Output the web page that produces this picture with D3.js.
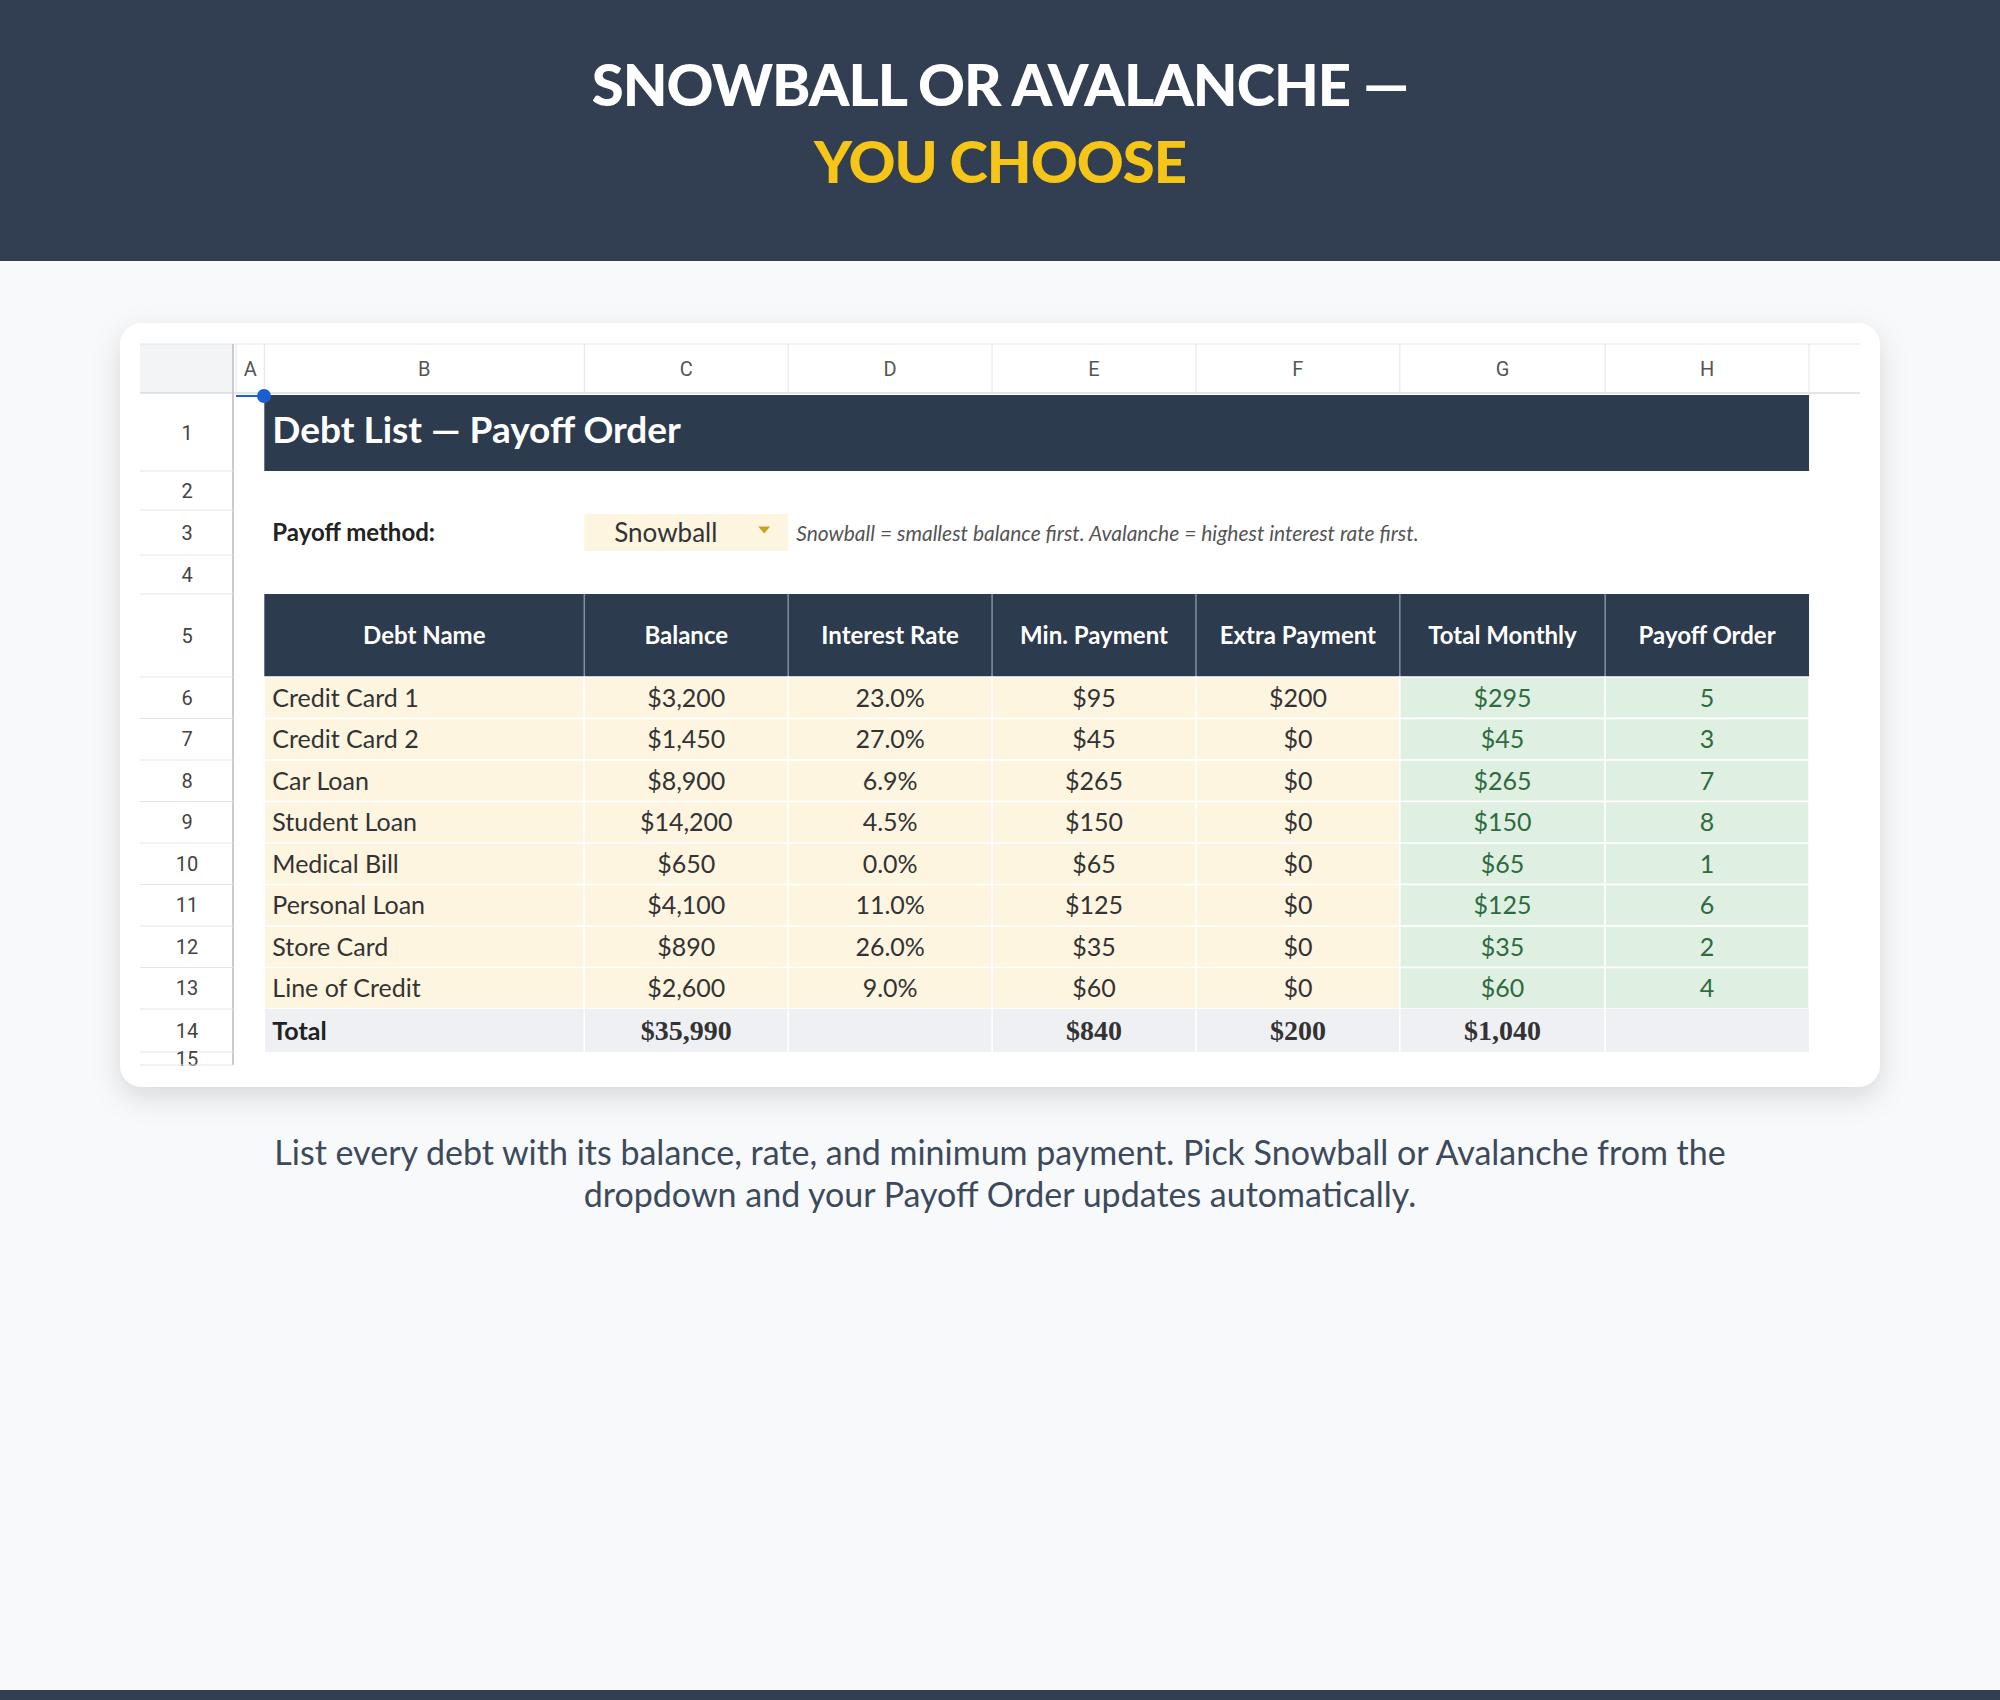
<!DOCTYPE html>
<html><head><meta charset="utf-8">
<script src="https://cdn.jsdelivr.net/npm/d3@7/dist/d3.min.js"></script>
<style>body{margin:0;background:#f7f9fb;}</style></head>
<body><svg id="c" width="2000" height="1700"></svg>
<script>
const titleLine1 = "SNOWBALL OR AVALANCHE —";
const titleLine2 = "YOU CHOOSE";
const colLetters = ["A","B","C","D","E","F","G","H"];
const headers = ["Debt Name","Balance","Interest Rate","Min. Payment","Extra Payment","Total Monthly","Payoff Order"];
const debtNames = ["Credit Card 1","Credit Card 2","Car Loan","Student Loan","Medical Bill","Personal Loan","Store Card","Line of Credit"];
const balances = [3200,1450,8900,14200,650,4100,890,2600];
const rates = [23.0,27.0,6.9,4.5,0.0,11.0,26.0,9.0];
const minPayments = [95,45,265,150,65,125,35,60];
const extraPayments = [200,0,0,0,0,0,0,0];
const totalMonthly = [295,45,265,150,65,125,35,60];
const payoffOrder = [5,3,7,8,1,6,2,4];
const totals = ["Total","$35,990","","$840","$200","$1,040",""];
const caption = ["List every debt with its balance, rate, and minimum payment. Pick Snowball or Avalanche from the","dropdown and your Payoff Order updates automatically."];

const svg = d3.select("#c");
const W=2000;
svg.append("rect").attr("width",W).attr("height",1700).attr("fill","#f7f9fb");
svg.append("rect").attr("width",W).attr("height",261).attr("fill","#323f52");
svg.append("rect").attr("y",1690).attr("width",W).attr("height",10).attr("fill","#323f52");
svg.append("text").attr("x",W/2).attr("y",106).attr("text-anchor","middle").attr("font-family","Lato").attr("font-weight","900").attr("font-size",58).attr("fill","#fff").attr("letter-spacing",-1).text(titleLine1);
svg.append("text").attr("x",W/2).attr("y",183).attr("text-anchor","middle").attr("font-family","Lato").attr("font-weight","900").attr("font-size",58).attr("fill","#f5c518").attr("letter-spacing",-1).text(titleLine2);

const defs=svg.append("defs");
const f=defs.append("filter").attr("id","sh").attr("x","-10%").attr("y","-10%").attr("width","120%").attr("height","130%");
f.append("feDropShadow").attr("dx",0).attr("dy",10).attr("stdDeviation",14).attr("flood-color","#000").attr("flood-opacity",0.13);
svg.append("rect").attr("x",120).attr("y",323).attr("width",1760).attr("height",764).attr("rx",22).attr("fill","#fff").attr("filter","url(#sh)");

// column scale in units
const colW=[1,11.3,7.2,7.2,7.2,7.2,7.25,7.2,1.8]; // A..H + extra
const edges=[0]; colW.forEach(w=>edges.push(edges[edges.length-1]+w));
const x=d3.scaleLinear().domain([0,edges[edges.length-1]]).range([236,1860]);
const rowH=[76,39,45,39,83,41.5,41.5,41.5,41.5,41.5,41.5,41.5,41.5,43,13];
const rEdges=[0]; rowH.forEach(h=>rEdges.push(rEdges[rEdges.length-1]+h));
const y=d3.scaleLinear().domain([0,rEdges[rEdges.length-1]]).range([395,1065]);
const g=svg.append("g").attr("font-family","Lato");
const L="#e3e5e8";
// column header row
g.append("rect").attr("x",140).attr("y",344).attr("width",1720).attr("height",49).attr("fill","#fff");
g.append("rect").attr("x",140).attr("y",344).attr("width",93).attr("height",49).attr("fill","#f3f4f6");
g.append("line").attr("x1",140).attr("x2",1860).attr("y1",344).attr("y2",344).attr("stroke",L);
g.append("line").attr("x1",140).attr("x2",1860).attr("y1",393).attr("y2",393).attr("stroke","#c8cbd0");
colLetters.forEach((c,i)=>{
  g.append("text").attr("x",(x(edges[i])+x(edges[i+1]))/2).attr("y",376).attr("text-anchor","middle").attr("font-size",20).attr("fill","#555").attr("font-family","Roboto").text(c);
});
edges.slice(0,-1).forEach(e=>g.append("line").attr("x1",x(e)).attr("x2",x(e)).attr("y1",344).attr("y2",393).attr("stroke",L));
g.append("line").attr("x1",233).attr("x2",233).attr("y1",344).attr("y2",1065).attr("stroke","#c8cbd0").attr("stroke-width",2);
// row numbers
rowH.forEach((h,i)=>{
  g.append("text").attr("x",187).attr("y",(y(rEdges[i])+y(rEdges[i+1]))/2+7).attr("text-anchor","middle").attr("font-size",20).attr("fill","#444").attr("font-family","Roboto").text(i+1);
  g.append("line").attr("x1",140).attr("x2",233).attr("y1",y(rEdges[i+1])).attr("y2",y(rEdges[i+1])).attr("stroke",L);
});
// row 1 banner
g.append("rect").attr("x",x(edges[1])).attr("y",y(0)).attr("width",x(edges[8])-x(edges[1])).attr("height",rowH[0]).attr("fill","#2d3b4e");
g.append("text").attr("x",x(edges[1])+8).attr("y",y(0)+48).attr("font-size",37).attr("font-weight","bold").attr("fill","#fff").text("Debt List — Payoff Order");
g.append("line").attr("x1",236).attr("x2",264).attr("y1",y(1)).attr("y2",y(1)).attr("stroke","#1a5fd0").attr("stroke-width",2);
g.append("circle").attr("cx",264).attr("cy",y(1)).attr("r",7).attr("fill","#1a5fd0");
// row 3
const r3=(y(rEdges[2])+y(rEdges[3]))/2;
g.append("text").attr("x",x(edges[1])+8).attr("y",r3+8).attr("font-size",24).attr("font-weight","bold").attr("fill","#222").text("Payoff method:");
g.append("rect").attr("x",x(edges[2])).attr("y",y(rEdges[2])+4).attr("width",x(edges[3])-x(edges[2])).attr("height",rowH[2]-8).attr("fill","#fdf5e0");
g.append("text").attr("x",x(edges[2])+30).attr("y",r3+9).attr("font-size",26).attr("fill","#333").text("Snowball");
g.append("path").attr("d",`M${x(edges[3])-30},${r3-6}l12,0l-6,7z`).attr("fill","#c9a227");
g.append("text").attr("x",x(edges[3])+8).attr("y",r3+8).attr("font-size",21).attr("font-style","italic").attr("fill","#555").text("Snowball = smallest balance first. Avalanche = highest interest rate first.");
// header row 5
const hy=y(rEdges[4]);
g.append("rect").attr("x",x(edges[1])).attr("y",hy).attr("width",x(edges[8])-x(edges[1])).attr("height",rowH[4]).attr("fill","#2d3b4e");
headers.forEach((h,i)=>{
  const cx=(x(edges[i+1])+x(edges[i+2]))/2;
  g.append("text").attr("x",cx).attr("y",hy+rowH[4]/2+8).attr("text-anchor","middle").attr("font-size",24).attr("font-weight","bold").attr("fill","#fff").text(h);
  if(i>0) g.append("line").attr("x1",x(edges[i+1])).attr("x2",x(edges[i+1])).attr("y1",hy).attr("y2",hy+rowH[4]).attr("stroke","#8090a5").attr("stroke-width",1.5);
});
const fmt=d3.format(",");
const rows=debtNames.map((n,i)=>[n,"$"+fmt(balances[i]),rates[i].toFixed(1)+"%","$"+minPayments[i],"$"+extraPayments[i],"$"+totalMonthly[i],String(payoffOrder[i])]);
rows.forEach((r,ri)=>{
  const y0=y(rEdges[5+ri]), h=rowH[5+ri];
  r.forEach((v,ci)=>{
    const x0=x(edges[ci+1]), x1=x(edges[ci+2]);
    g.append("rect").attr("x",x0).attr("y",y0).attr("width",x1-x0).attr("height",h).attr("fill",ci>=5?"#dff0e3":"#fdf5e0").attr("stroke","#fff").attr("stroke-width",1.5);
    const t=g.append("text").attr("y",y0+h/2+9).attr("font-size",25).attr("fill",ci>=5?"#2e6b3e":"#333");
    if(ci===0) t.attr("x",x0+8).text(v); else t.attr("x",(x0+x1)/2).attr("text-anchor","middle").text(v);
  });
});
const ty=y(rEdges[13]);
g.append("rect").attr("x",x(edges[1])).attr("y",ty).attr("width",x(edges[8])-x(edges[1])).attr("height",rowH[13]).attr("fill","#eef0f4");
totals.forEach((v,ci)=>{
  const x0=x(edges[ci+1]), x1=x(edges[ci+2]);
  g.append("line").attr("x1",x0).attr("x2",x0).attr("y1",ty).attr("y2",ty+rowH[13]).attr("stroke","#fff").attr("stroke-width",1.5);
  const t=g.append("text").attr("y",ty+rowH[13]/2+9).attr("font-weight","bold").attr("fill","#222");
  if(ci===0) t.attr("x",x0+8).attr("font-size",25).text(v);
  else t.attr("x",(x0+x1)/2).attr("text-anchor","middle").attr("font-size",28).attr("font-family","Liberation Serif").attr("fill","#333").text(v);
});
caption.forEach((c,i)=>svg.append("text").attr("x",W/2).attr("y",1165+i*42).attr("text-anchor","middle").attr("font-family","Lato").attr("font-size",34).attr("fill","#3d4a5c").text(c));
</script></body></html>
